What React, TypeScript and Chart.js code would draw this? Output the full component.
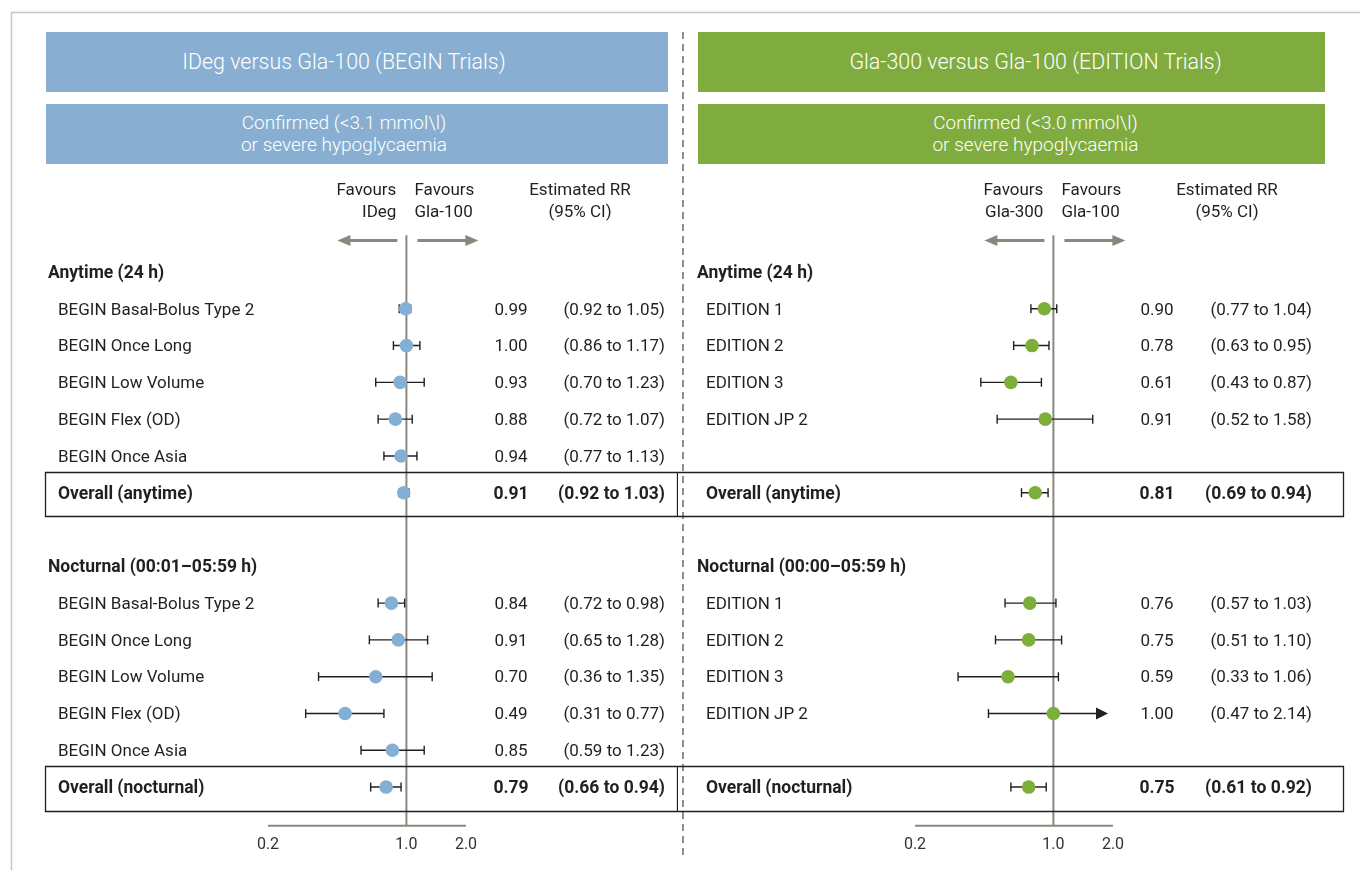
import React, { useEffect, useRef } from "react";
import { Chart, registerables } from "chart.js";

Chart.register(...registerables);

// ---------- DATA ----------
const leftTitle = "IDeg versus Gla-100 (BEGIN Trials)";
const leftSubtitle = ["Confirmed (<3.1 mmol\\l)", "or severe hypoglycaemia"];
const rightTitle = "Gla-300 versus Gla-100 (EDITION Trials)";
const rightSubtitle = ["Confirmed (<3.0 mmol\\l)", "or severe hypoglycaemia"];

const leftFavours = [["Favours", "IDeg"], ["Favours", "Gla-100"]];
const rightFavours = [["Favours", "Gla-300"], ["Favours", "Gla-100"]];
const rrHeader = ["Estimated RR", "(95% CI)"];

const leftSections = ["Anytime (24 h)", "Nocturnal (00:01–05:59 h)"];
const rightSections = ["Anytime (24 h)", "Nocturnal (00:00–05:59 h)"];
const leftOverallLabels = ["Overall (anytime)", "Overall (nocturnal)"];
const rightOverallLabels = ["Overall (anytime)", "Overall (nocturnal)"];

const leftStudies = [
  "BEGIN Basal-Bolus Type 2",
  "BEGIN Once Long",
  "BEGIN Low Volume",
  "BEGIN Flex (OD)",
  "BEGIN Once Asia",
];
const rightStudies = ["EDITION 1", "EDITION 2", "EDITION 3", "EDITION JP 2"];

// last entry of each list = overall
const leftAnyEst = [0.99, 1.0, 0.93, 0.88, 0.94, 0.97];
const leftAnyLo = [0.92, 0.86, 0.7, 0.72, 0.77, 0.92];
const leftAnyHi = [1.05, 1.17, 1.23, 1.07, 1.13, 1.03];
const leftAnyRR = ["0.99", "1.00", "0.93", "0.88", "0.94", "0.91"];
const leftAnyCI = ["(0.92 to 1.05)", "(0.86 to 1.17)", "(0.70 to 1.23)", "(0.72 to 1.07)", "(0.77 to 1.13)", "(0.92 to 1.03)"];

const leftNocEst = [0.84, 0.91, 0.7, 0.49, 0.85, 0.79];
const leftNocLo = [0.72, 0.65, 0.36, 0.31, 0.59, 0.66];
const leftNocHi = [0.98, 1.28, 1.35, 0.77, 1.23, 0.94];
const leftNocRR = ["0.84", "0.91", "0.70", "0.49", "0.85", "0.79"];
const leftNocCI = ["(0.72 to 0.98)", "(0.65 to 1.28)", "(0.36 to 1.35)", "(0.31 to 0.77)", "(0.59 to 1.23)", "(0.66 to 0.94)"];

const rightAnyEst = [0.9, 0.78, 0.61, 0.91, 0.81];
const rightAnyLo = [0.77, 0.63, 0.43, 0.52, 0.69];
const rightAnyHi = [1.04, 0.95, 0.87, 1.58, 0.94];
const rightAnyRR = ["0.90", "0.78", "0.61", "0.91", "0.81"];
const rightAnyCI = ["(0.77 to 1.04)", "(0.63 to 0.95)", "(0.43 to 0.87)", "(0.52 to 1.58)", "(0.69 to 0.94)"];

const rightNocEst = [0.76, 0.75, 0.59, 1.0, 0.75];
const rightNocLo = [0.57, 0.51, 0.33, 0.47, 0.61];
const rightNocHi = [1.03, 1.1, 1.06, 2.14, 0.92];
const rightNocRR = ["0.76", "0.75", "0.59", "1.00", "0.75"];
const rightNocCI = ["(0.57 to 1.03)", "(0.51 to 1.10)", "(0.33 to 1.06)", "(0.47 to 2.14)", "(0.61 to 0.92)"];

const axisTicks = [0.2, 1.0, 2.0];
const axisTickLabels = ["0.2", "1.0", "2.0"];

// ---------- STYLE / LAYOUT ----------
const FONT = "Roboto, 'Noto Sans', sans-serif";
const TEXT = "#231f20";
const BLUE_HEAD = "#88afd1";
const BLUE_DOT = "#84afd5";
const GREEN_HEAD = "#80ac3f";
const GREEN_DOT = "#7cae3a";
const GREY_LINE = "#88887e";
const REG = `17px ${FONT}`;
const BOLD = `bold 17.5px ${FONT}`;
const TY = 1.5; // visual text centring offset

type Row = { y: number; est: number; lo: number; hi: number; rr: string; ci: string; label: string; bold: boolean };

function buildRows(studies: string[], overall: string[], sets: any[]) {
  const rows: Row[] = [];
  sets.forEach((s, si) => {
    const base = si === 0 ? 0 : 8;
    const n = s.est.length - 1;
    for (let i = 0; i < n; i++) {
      rows.push({ y: base + 1 + i, est: s.est[i], lo: s.lo[i], hi: s.hi[i], rr: s.rr[i], ci: s.ci[i], label: studies[i], bold: false });
    }
    rows.push({ y: base + 6, est: s.est[n], lo: s.lo[n], hi: s.hi[n], rr: s.rr[n], ci: s.ci[n], label: overall[si], bold: true });
  });
  return rows;
}

const leftRows = buildRows(leftStudies, leftOverallLabels, [
  { est: leftAnyEst, lo: leftAnyLo, hi: leftAnyHi, rr: leftAnyRR, ci: leftAnyCI },
  { est: leftNocEst, lo: leftNocLo, hi: leftNocHi, rr: leftNocRR, ci: leftNocCI },
]);
const rightRows = buildRows(rightStudies, rightOverallLabels, [
  { est: rightAnyEst, lo: rightAnyLo, hi: rightAnyHi, rr: rightAnyRR, ci: rightAnyCI },
  { est: rightNocEst, lo: rightNocLo, hi: rightNocHi, rr: rightNocRR, ci: rightNocCI },
]);

type Panel = {
  left: number; width: number; padL: number; padR: number;
  rows: Row[]; sections: string[]; favours: string[][]; dot: string;
  headingX: number; labelX: number; valueX: number; ciX: number; rrX: number;
  boxL: number; boxR: number; boxLeftBorder: boolean;
};

const panels: Panel[] = [
  {
    left: 20, width: 658, padL: 248, padR: 212, rows: leftRows, sections: leftSections, favours: leftFavours, dot: BLUE_DOT,
    headingX: 48, labelX: 58, valueX: 511, ciX: 665, rrX: 580, boxL: 45.5, boxR: 677.5, boxLeftBorder: true,
  },
  {
    left: 678, width: 682, padL: 237, padR: 247, rows: rightRows, sections: rightSections, favours: rightFavours, dot: GREEN_DOT,
    headingX: 697, labelX: 706, valueX: 1157, ciX: 1312, rrX: 1227, boxL: 678, boxR: 1343.5, boxLeftBorder: false,
  },
];

function arrow(ctx: CanvasRenderingContext2D, x1: number, x2: number, y: number, len: number, hh: number) {
  const dir = Math.sign(x2 - x1);
  ctx.beginPath();
  ctx.moveTo(x1, y);
  ctx.lineTo(x2 - dir * len * 0.8, y);
  ctx.stroke();
  ctx.beginPath();
  ctx.moveTo(x2, y);
  ctx.lineTo(x2 - dir * len, y - hh);
  ctx.lineTo(x2 - dir * len, y + hh);
  ctx.closePath();
  ctx.fill();
}

function makePlugin(p: Panel) {
  return {
    id: "forest",
    beforeDatasetsDraw(chart: any) {
      const ctx: CanvasRenderingContext2D = chart.ctx;
      const xs = chart.scales.x;
      const ys = chart.scales.y;
      const ca = chart.chartArea;
      const L = (v: number) => v - p.left;
      const refX = xs.getPixelForValue(1);
      ctx.save();

      // reference line + axis
      ctx.strokeStyle = GREY_LINE;
      ctx.lineWidth = 2;
      ctx.beginPath();
      ctx.moveTo(refX, ca.top);
      ctx.lineTo(refX, ca.bottom);
      ctx.stroke();
      ctx.beginPath();
      ctx.moveTo(xs.getPixelForValue(axisTicks[0]), ca.bottom);
      ctx.lineTo(xs.getPixelForValue(axisTicks[axisTicks.length - 1]), ca.bottom);
      ctx.stroke();

      ctx.fillStyle = "#333";
      ctx.font = `16px ${FONT}`;
      ctx.textAlign = "center";
      ctx.textBaseline = "middle";
      axisTicks.forEach((t, i) => ctx.fillText(axisTickLabels[i], xs.getPixelForValue(t), ca.bottom + 19));

      // favours headers + arrows
      ctx.fillStyle = TEXT;
      ctx.font = REG;
      ctx.textAlign = "right";
      ctx.fillText(p.favours[0][0], refX - 10, 191);
      ctx.fillText(p.favours[0][1], refX - 10, 213);
      ctx.textAlign = "left";
      ctx.fillText(p.favours[1][0], refX + 8, 191);
      ctx.fillText(p.favours[1][1], refX + 8, 213);
      ctx.textAlign = "center";
      ctx.fillText(rrHeader[0], L(p.rrX), 191);
      ctx.fillText(rrHeader[1], L(p.rrX), 213);

      ctx.strokeStyle = GREY_LINE;
      ctx.fillStyle = GREY_LINE;
      ctx.lineWidth = 3;
      arrow(ctx, refX - 9, refX - 69, 240.5, 13, 5.5);
      arrow(ctx, refX + 11, refX + 72, 240.5, 13, 5.5);

      // section headings
      ctx.fillStyle = TEXT;
      ctx.textAlign = "left";
      ctx.font = BOLD;
      ctx.fillText(p.sections[0], L(p.headingX), ys.getPixelForValue(0) + TY);
      ctx.fillText(p.sections[1], L(p.headingX), ys.getPixelForValue(8) + TY);

      // overall boxes
      ctx.strokeStyle = TEXT;
      ctx.lineWidth = 1.3;
      [6, 14].forEach((r) => {
        const t = Math.round(ys.getPixelForValue(r - 0.56)) + 0.5;
        const b = Math.round(ys.getPixelForValue(r + 0.64)) + 0.5;
        ctx.beginPath();
        ctx.moveTo(L(p.boxL), t);
        ctx.lineTo(L(p.boxR), t);
        ctx.lineTo(L(p.boxR), b);
        ctx.lineTo(L(p.boxL), b);
        if (p.boxLeftBorder) ctx.closePath();
        ctx.stroke();
      });

      // rows text + error bars
      p.rows.forEach((r) => {
        const y = ys.getPixelForValue(r.y);
        ctx.fillStyle = TEXT;
        ctx.font = r.bold ? BOLD : REG;
        ctx.textAlign = "left";
        ctx.fillText(r.label, L(p.labelX), y + TY);
        ctx.textAlign = "center";
        ctx.fillText(r.rr, L(p.valueX), y + TY);
        ctx.textAlign = "right";
        ctx.fillText(r.ci, L(p.ciX), y + TY);

        ctx.strokeStyle = TEXT;
        ctx.fillStyle = TEXT;
        ctx.lineWidth = 1.4;
        const x1 = xs.getPixelForValue(r.lo);
        const clipped = r.hi > axisTicks[axisTicks.length - 1];
        const x2 = clipped ? xs.getPixelForValue(axisTicks[axisTicks.length - 1]) - 5 : xs.getPixelForValue(r.hi);
        ctx.beginPath();
        ctx.moveTo(x1, y - 4.5);
        ctx.lineTo(x1, y + 4.5);
        ctx.stroke();
        if (clipped) {
          arrow(ctx, x1, x2, y, 12, 6);
        } else {
          ctx.beginPath();
          ctx.moveTo(x1, y);
          ctx.lineTo(x2, y);
          ctx.moveTo(x2, y - 4.5);
          ctx.lineTo(x2, y + 4.5);
          ctx.stroke();
        }
      });
      ctx.restore();
    },
  };
}

function ForestPanel({ p }: { p: Panel }) {
  const ref = useRef<HTMLCanvasElement>(null);
  useEffect(() => {
    if (!ref.current) return;
    const chart = new Chart(ref.current, {
      type: "scatter",
      data: {
        datasets: [
          {
            data: p.rows.map((r) => ({ x: r.est, y: r.y })),
            pointRadius: 6.8,
            pointHoverRadius: 6.8,
            pointBackgroundColor: p.dot,
            pointBorderWidth: 0,
            showLine: false,
          } as any,
        ],
      },
      options: {
        animation: false,
        responsive: false,
        maintainAspectRatio: false,
        devicePixelRatio: 1,
        events: [],
        layout: { padding: { left: p.padL, right: p.padR, top: 235.2, bottom: 44.3 } },
        plugins: { legend: { display: false }, tooltip: { enabled: false } },
        scales: {
          x: { type: "logarithmic", min: axisTicks[0], max: axisTicks[axisTicks.length - 1], display: false },
          y: { type: "linear", min: -1, max: 15.05, reverse: true, display: false },
        },
      } as any,
      plugins: [makePlugin(p)],
    });
    return () => chart.destroy();
  }, [p]);
  return (
    <canvas
      ref={ref}
      width={p.width}
      height={870}
      style={{ position: "absolute", left: p.left, top: 0, width: p.width, height: 870 }}
    />
  );
}

function HeaderBox({ x, w, y, h, color, lines, size, shift }: any) {
  return (
    <div
      style={{
        position: "absolute", left: x, top: y, width: w, height: h, background: color, color: "#fff",
        display: "flex", flexDirection: "column", alignItems: "center", justifyContent: "center",
        fontFamily: FONT, fontWeight: 300, fontSize: size, lineHeight: "22px",
      }}
    >
      {lines.map((l: string, i: number) => (
        <div key={i} style={{ position: "relative", left: shift, whiteSpace: "nowrap" }}>{l}</div>
      ))}
    </div>
  );
}

export default function App() {
  return (
    <div style={{ position: "absolute", left: 0, top: 0, width: 1360, height: 870, background: "#fff", overflow: "hidden" }}>
      <svg width={1360} height={870} style={{ position: "absolute", left: 0, top: 0 }}>
        <line x1={11} y1={12.5} x2={1360} y2={12.5} stroke="#c6c6c6" strokeWidth={1.5} />
        <line x1={11.5} y1={12} x2={11.5} y2={870} stroke="#c6c6c6" strokeWidth={1.5} />
        <line x1={683} y1={32} x2={683} y2={860} stroke="#8e8e8e" strokeWidth={2} strokeDasharray="7 5" />
      </svg>
      <HeaderBox x={46} w={622} y={32} h={60} color={BLUE_HEAD} lines={[leftTitle]} size={21.4} shift={-13} />
      <HeaderBox x={46} w={622} y={104} h={60} color={BLUE_HEAD} lines={leftSubtitle} size={19} shift={-13} />
      <HeaderBox x={698} w={627} y={32} h={60} color={GREEN_HEAD} lines={[rightTitle]} size={21.4} shift={24} />
      <HeaderBox x={698} w={627} y={104} h={60} color={GREEN_HEAD} lines={rightSubtitle} size={19} shift={24} />
      {panels.map((p, i) => (
        <ForestPanel key={i} p={p} />
      ))}
    </div>
  );
}
